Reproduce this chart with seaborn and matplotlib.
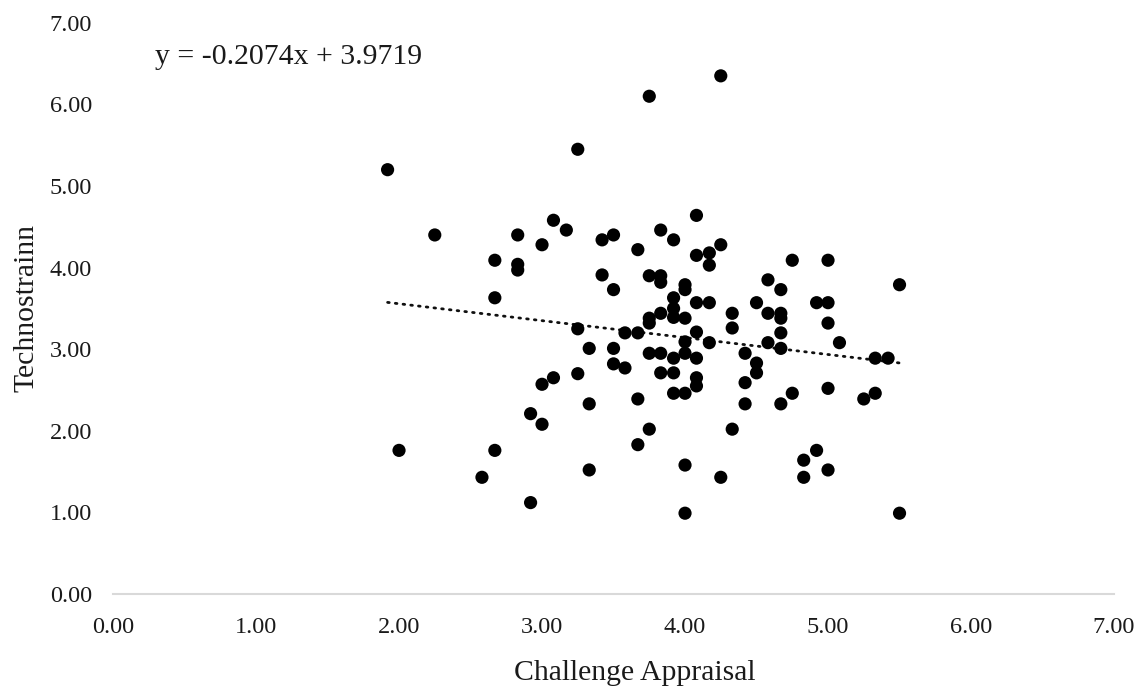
import numpy as np
import pandas as pd
import matplotlib
matplotlib.use("Agg")
import matplotlib.pyplot as plt
import seaborn as sns

# Challenge Appraisal (x) and Technostrainn (y) values
challenge = [
    1.92, 2.00, 2.25, 2.58, 2.67, 2.67, 2.67, 2.83, 2.83, 2.83,
    2.92, 2.92, 3.00, 3.00, 3.00, 3.08, 3.08, 3.17, 3.25, 3.25,
    3.25, 3.33, 3.33, 3.33, 3.42, 3.42, 3.50, 3.50, 3.50, 3.50,
    3.58, 3.58, 3.67, 3.67, 3.67, 3.67, 3.75, 3.75, 3.75, 3.75,
    3.75, 3.75, 3.83, 3.83, 3.83, 3.83, 3.83, 3.83, 3.92, 3.92,
    3.92, 3.92, 3.92, 3.92, 3.92, 4.00, 4.00, 4.00, 4.00, 4.00,
    4.00, 4.00, 4.00, 4.08, 4.08, 4.08, 4.08, 4.08, 4.08, 4.08,
    4.17, 4.17, 4.17, 4.17, 4.25, 4.25, 4.25, 4.33, 4.33, 4.33,
    4.42, 4.42, 4.42, 4.50, 4.50, 4.50, 4.58, 4.58, 4.58, 4.67,
    4.67, 4.67, 4.67, 4.67, 4.67, 4.75, 4.75, 4.83, 4.83, 4.92,
    4.92, 5.00, 5.00, 5.00, 5.00, 5.00, 5.08, 5.25, 5.33, 5.33,
    5.42, 5.50, 5.50,
]
technostrain = [
    5.20, 1.76, 4.40, 1.43, 4.09, 3.63, 1.76, 4.40, 4.04, 3.97,
    1.12, 2.21, 4.28, 2.57, 2.08, 4.58, 2.65, 4.46, 5.45, 2.70,
    3.25, 3.01, 2.33, 1.52, 4.34, 3.91, 4.40, 3.73, 3.01, 2.82,
    2.77, 3.20, 4.22, 3.20, 2.39, 1.83, 6.10, 3.90, 3.38, 3.32,
    2.95, 2.02, 4.46, 3.90, 3.82, 3.44, 2.95, 2.71, 4.34, 3.63,
    3.50, 3.39, 2.89, 2.71, 2.46, 3.79, 3.73, 3.38, 3.09, 2.95,
    2.46, 1.58, 0.99, 4.64, 4.15, 3.57, 3.21, 2.89, 2.65, 2.55,
    4.18, 4.03, 3.57, 3.08, 6.35, 4.28, 1.43, 3.44, 3.26, 2.02,
    2.95, 2.59, 2.33, 3.57, 2.83, 2.71, 3.85, 3.44, 3.08, 3.73,
    3.44, 3.38, 3.20, 3.01, 2.33, 4.09, 2.46, 1.64, 1.43, 3.57,
    1.76, 4.09, 3.57, 3.32, 2.52, 1.52, 3.08, 2.39, 2.89, 2.46,
    2.89, 3.79, 0.99,
]
trend_slope = -0.2074
trend_intercept = 3.9719
equation_text = "y = -0.2074x + 3.9719"
x_label = "Challenge Appraisal"
y_label = "Technostrainn"
ticks = [0, 1, 2, 3, 4, 5, 6, 7]

df = pd.DataFrame({"x": challenge, "y": technostrain})

sns.set_theme(style="white")
plt.rcParams["font.family"] = ["Liberation Serif", "DejaVu Serif"]

fig = plt.figure(figsize=(11.44, 6.89), dpi=100)
ax = fig.add_axes([0.0988, 0.1379, 0.8750, 0.8290])

sns.scatterplot(data=df, x="x", y="y", ax=ax, color="black", s=90,
                edgecolor="none", linewidth=0, zorder=3)

xs = np.array([min(challenge), max(challenge)])
ax.plot(xs, trend_slope * xs + trend_intercept, color="#101010",
        linewidth=2.0, linestyle=(0, (0.6, 2.2)), dash_capstyle="round",
        zorder=2)

ax.set_xlim(0, 7)
ax.set_ylim(0, 7)
ax.set_xticks(ticks)
ax.set_yticks(ticks)
ax.set_xticklabels([f"{t:.2f}" for t in ticks], fontsize=17.5)
ax.set_yticklabels([f"{t:.2f}" for t in ticks], fontsize=17.5)
ax.tick_params(axis="x", length=0, pad=16.5, colors="#1a1a1a")
ax.tick_params(axis="y", length=0, pad=15, colors="#1a1a1a")

for side in ["top", "right", "left"]:
    ax.spines[side].set_visible(False)
ax.spines["bottom"].set_color("#d9d9d9")
ax.spines["bottom"].set_linewidth(1.5)

ax.set_xlabel(x_label, fontsize=21.4, color="#1a1a1a")
ax.set_ylabel(y_label, fontsize=21.4, color="#1a1a1a")
ax.xaxis.set_label_coords(0.521, -0.1147)
ax.yaxis.set_label_coords(-0.0734, 0.5)

ax.text(0.294, 6.495, equation_text, fontsize=21.4, color="#1a1a1a",
        ha="left", va="baseline")

fig.savefig("out.png", dpi=100)
